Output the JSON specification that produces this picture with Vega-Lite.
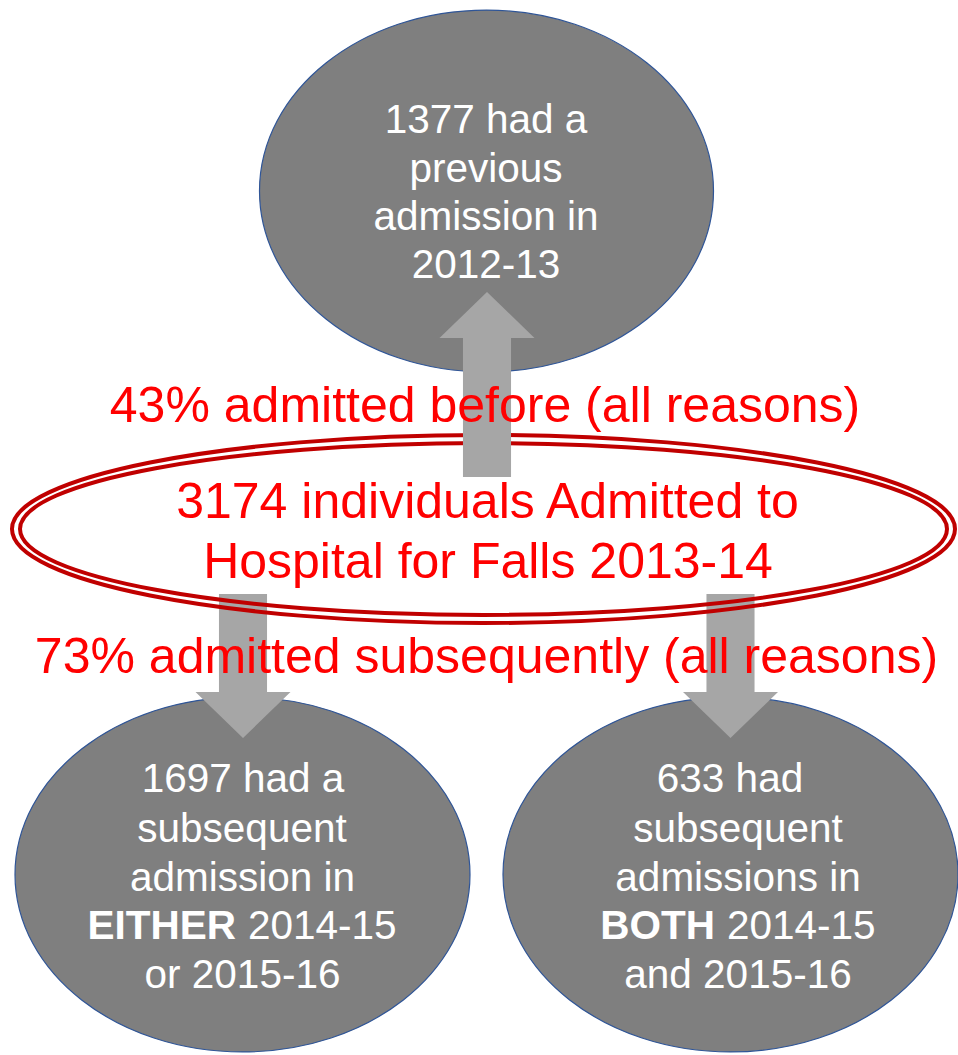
{
  "$schema": "https://vega.github.io/schema/vega-lite/v6.json",
  "width": 958,
  "height": 1055,
  "autosize": {"type": "none"},
  "padding": 0,
  "background": "white",
  "config": {"view": {"stroke": null}, "text": {"font": "Liberation Sans"}},
  "datasets": {
    "ellipses": [
      {"name": "previous", "x": 486.5, "y": 191},
      {"name": "either", "x": 242.5, "y": 874.5},
      {"name": "both", "x": 730.5, "y": 874.5},
      {"name": "falls", "x": 483.5, "y": 529}
    ],
    "arrows": [
      {"dir": "up", "x": 487, "y": 384.5},
      {"dir": "down", "x": 243, "y": 666},
      {"dir": "down", "x": 730.5, "y": 666}
    ],
    "labels": [
      {"part": "node", "text": "1377 had a", "x": 486, "y": 133},
      {"part": "node", "text": "previous", "x": 486, "y": 182},
      {"part": "node", "text": "admission in", "x": 486, "y": 230},
      {"part": "node", "text": "2012-13", "x": 486, "y": 278},
      {"part": "node", "text": "1697 had a", "x": 243, "y": 792},
      {"part": "node", "text": "subsequent", "x": 242, "y": 842},
      {"part": "node", "text": "admission in", "x": 242.5, "y": 891},
      {"part": "nodeLeft", "text": "2014-15", "x": 248, "y": 939},
      {"part": "nodeBold", "text": "EITHER", "x": 236, "y": 939},
      {"part": "node", "text": "or 2015-16", "x": 242.5, "y": 988},
      {"part": "node", "text": "633 had", "x": 730, "y": 792},
      {"part": "node", "text": "subsequent", "x": 738, "y": 842},
      {"part": "node", "text": "admissions in", "x": 738, "y": 891},
      {"part": "nodeBold", "text": "BOTH", "x": 715, "y": 939},
      {"part": "nodeLeft", "text": "2014-15", "x": 727, "y": 939},
      {"part": "node", "text": "and 2015-16", "x": 738, "y": 988},
      {"part": "note", "text": "43% admitted before (all reasons)", "x": 485, "y": 422},
      {"part": "note", "text": "3174 individuals Admitted to", "x": 487.5, "y": 518},
      {"part": "note", "text": "Hospital for Falls 2013-14", "x": 488, "y": 578},
      {"part": "note", "text": "73% admitted subsequently (all reasons)", "x": 486.5, "y": 673}
    ]
  },
  "encoding": {
    "x": {"field": "x", "type": "quantitative", "scale": {"domain": [0, 958], "nice": false, "zero": false}, "axis": null},
    "y": {"field": "y", "type": "quantitative", "scale": {"domain": [0, 1055], "nice": false, "zero": false, "reverse": true}, "axis": null}
  },
  "layer": [
    {
      "data": {"name": "ellipses"},
      "transform": [{"filter": "datum.name === 'previous'"}],
      "mark": {"type": "point", "shape": "M -1 0 A 1 0.797 0 1 1 1 0 A 1 0.797 0 1 1 -1 0 Z", "size": 206116, "filled": true, "fill": "#7f7f7f", "stroke": "#2f5597", "strokeWidth": 1.2, "opacity": 1}
    },
    {
      "data": {"name": "ellipses"},
      "transform": [{"filter": "datum.name === 'either' || datum.name === 'both'"}],
      "mark": {"type": "point", "shape": "M -1 0 A 1 0.78 0 1 1 1 0 A 1 0.78 0 1 1 -1 0 Z", "size": 207025, "filled": true, "fill": "#7f7f7f", "stroke": "#2f5597", "strokeWidth": 1.2, "opacity": 1}
    },
    {
      "data": {"name": "arrows"},
      "transform": [{"filter": "datum.dir === 'down'"}],
      "mark": {"type": "point", "shape": "M -0.253 -0.758 L 0.253 -0.758 L 0.253 0.274 L 0.5 0.274 L 0 0.758 L -0.5 0.274 L -0.253 0.274 Z", "size": 36100, "filled": true, "fill": "#a6a6a6", "strokeWidth": 0, "opacity": 1}
    },
    {
      "data": {"name": "ellipses"},
      "transform": [{"filter": "datum.name === 'falls'"}],
      "mark": {"type": "point", "shape": "M -1 0 A 1 0.1994 0 1 1 1 0 A 1 0.1994 0 1 1 -1 0 Z", "size": 889249, "filled": false, "stroke": "#c00000", "strokeWidth": 4, "opacity": 1}
    },
    {
      "data": {"name": "ellipses"},
      "transform": [{"filter": "datum.name === 'falls'"}],
      "mark": {"type": "point", "shape": "M -1 0 A 1 0.1855 0 1 1 1 0 A 1 0.1855 0 1 1 -1 0 Z", "size": 859329, "filled": false, "stroke": "#c00000", "strokeWidth": 4, "opacity": 1}
    },
    {
      "data": {"name": "arrows"},
      "transform": [{"filter": "datum.dir === 'up'"}],
      "mark": {"type": "point", "shape": "M -0.253 0.974 L -0.253 -0.489 L -0.5 -0.489 L 0 -0.974 L 0.5 -0.489 L 0.253 -0.489 L 0.253 0.974 Z", "size": 36100, "filled": true, "fill": "#a6a6a6", "strokeWidth": 0, "opacity": 1}
    },
    {
      "data": {"name": "labels"},
      "transform": [{"filter": "datum.part === 'node'"}],
      "mark": {"type": "text", "fontSize": 40.5, "color": "#ffffff", "align": "center", "baseline": "alphabetic"},
      "encoding": {"text": {"field": "text"}}
    },
    {
      "data": {"name": "labels"},
      "transform": [{"filter": "datum.part === 'nodeLeft'"}],
      "mark": {"type": "text", "fontSize": 40.5, "color": "#ffffff", "align": "left", "baseline": "alphabetic"},
      "encoding": {"text": {"field": "text"}}
    },
    {
      "data": {"name": "labels"},
      "transform": [{"filter": "datum.part === 'nodeBold'"}],
      "mark": {"type": "text", "fontSize": 40.5, "fontWeight": "bold", "color": "#ffffff", "align": "right", "baseline": "alphabetic"},
      "encoding": {"text": {"field": "text"}}
    },
    {
      "data": {"name": "labels"},
      "transform": [{"filter": "datum.part === 'note'"}],
      "mark": {"type": "text", "fontSize": 50, "color": "#ff0000", "align": "center", "baseline": "alphabetic"},
      "encoding": {"text": {"field": "text"}}
    }
  ]
}
